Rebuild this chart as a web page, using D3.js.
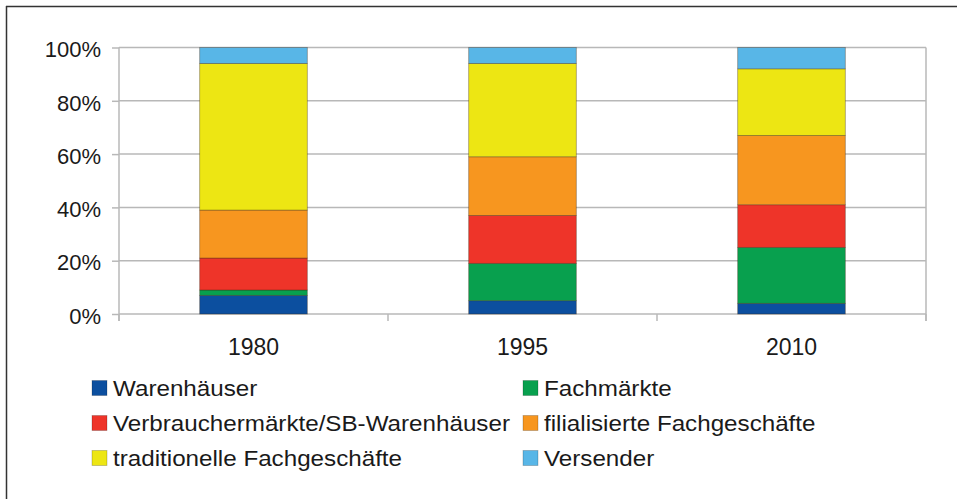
<!DOCTYPE html>
<html>
<head>
<meta charset="utf-8">
<script src="https://cdn.jsdelivr.net/npm/d3@7"></script>
<style>
  body { margin: 0; background: #fff; }
  text { font-family: "Liberation Sans", Arial, sans-serif; fill: #1a1a1a; }
</style>
</head>
<body>
<script>
// data (percent shares)
var years = ["1980", "1995", "2010"];
var series = ["Warenhäuser", "Fachmärkte", "Verbrauchermärkte/SB-Warenhäuser",
              "filialisierte Fachgeschäfte", "traditionelle Fachgeschäfte", "Versender"];
var warenhaeuser   = [7, 5, 4];
var fachmaerkte    = [2, 14, 21];
var verbraucher    = [12, 18, 16];
var filialisiert   = [18, 22, 26];
var traditionell   = [55, 35, 25];
var versender      = [6, 6, 8];
var yTicks = [0, 20, 40, 60, 80, 100];
var colors = ["#0c4f9f", "#08a04e", "#ee3429", "#f7961f", "#ede613", "#58b6e7"];

var width = 957, height = 499;
var plot = {left: 119, right: 926, top: 47.5, bottom: 314};

// one row per year for d3.stack
var rows = years.map(function(y, i) {
  return {
    year: y,
    "Warenhäuser": warenhaeuser[i],
    "Fachmärkte": fachmaerkte[i],
    "Verbrauchermärkte/SB-Warenhäuser": verbraucher[i],
    "filialisierte Fachgeschäfte": filialisiert[i],
    "traditionelle Fachgeschäfte": traditionell[i],
    "Versender": versender[i]
  };
});
var stacked = d3.stack().keys(series)(rows);

var svg = d3.select("body").append("svg")
    .attr("width", width)
    .attr("height", height);

// frame (only top and left edges visible)
svg.append("line").attr("x1", 6).attr("x2", width).attr("y1", 6.5).attr("y2", 6.5)
    .attr("stroke", "#333").attr("stroke-width", 1.5);
svg.append("line").attr("x1", 6.5).attr("x2", 6.5).attr("y1", 6).attr("y2", height)
    .attr("stroke", "#333").attr("stroke-width", 1.5);

var x = d3.scaleBand().domain(years)
    .range([plot.left, plot.right])
    .paddingInner(0.6).paddingOuter(0.3);
var y = d3.scaleLinear().domain([0, 100]).range([plot.bottom, plot.top]);

// gridlines
svg.append("g").selectAll("line")
  .data(yTicks)
  .enter().append("line")
    .attr("x1", plot.left).attr("x2", plot.right)
    .attr("y1", function(d) { return y(d); })
    .attr("y2", function(d) { return y(d); })
    .attr("stroke", "#b8b8b8").attr("stroke-width", 1.5);

// right border of plot
svg.append("line").attr("x1", plot.right).attr("x2", plot.right)
    .attr("y1", plot.top).attr("y2", plot.bottom + 7)
    .attr("stroke", "#b8b8b8").attr("stroke-width", 1.5);

// y axis
var yAxis = svg.append("g")
    .attr("transform", "translate(" + plot.left + ",0)")
    .call(d3.axisLeft(y).tickValues(yTicks).tickSize(7).tickPadding(11)
      .tickFormat(function(d) { return d + "%"; }));
yAxis.select(".domain").remove();
yAxis.append("line").attr("x1", 0).attr("x2", 0)
    .attr("y1", plot.top).attr("y2", plot.bottom + 7)
    .attr("stroke", "#b8b8b8").attr("stroke-width", 1.5);
yAxis.selectAll(".tick line").attr("stroke", "#b8b8b8").attr("stroke-width", 1.5);
yAxis.selectAll(".tick text")
    .style("font-size", "22px")
    .attr("dy", "0.42em")
    .attr("fill", "#1a1a1a");

// x axis: tick marks at category boundaries, labels centred
var bounds = [plot.left].concat(years.map(function(d) { return x(d) + x.bandwidth() / 2 + x.step() / 2; }));
svg.append("g").selectAll("line")
  .data(bounds)
  .enter().append("line")
    .attr("x1", function(d) { return d; }).attr("x2", function(d) { return d; })
    .attr("y1", plot.bottom).attr("y2", plot.bottom + 7)
    .attr("stroke", "#b8b8b8").attr("stroke-width", 1.5);
svg.append("g").selectAll("text")
  .data(years)
  .enter().append("text")
    .attr("x", function(d) { return x(d) + x.bandwidth() / 2; })
    .attr("y", 355)
    .attr("text-anchor", "middle")
    .style("font-size", "23px")
    .text(function(d) { return d; });

// bars
svg.append("g").selectAll("g")
  .data(stacked)
  .enter().append("g")
    .attr("fill", function(d, i) { return colors[i]; })
  .selectAll("rect")
  .data(function(d) { return d; })
  .enter().append("rect")
    .attr("x", function(d) { return x(d.data.year); })
    .attr("width", x.bandwidth())
    .attr("y", function(d) { return y(d[1]); })
    .attr("height", function(d) { return y(d[0]) - y(d[1]); })
    .attr("stroke", "rgba(60,40,20,0.45)")
    .attr("stroke-width", 0.8);

// legend
var legendCols = [92, 523];
var legendRows = [388, 423, 458];
var legend = svg.append("g").selectAll("g")
  .data(series)
  .enter().append("g")
    .attr("transform", function(d, i) {
      return "translate(" + legendCols[i % 2] + "," + legendRows[Math.floor(i / 2)] + ")";
    });
legend.append("rect")
    .attr("x", 0).attr("y", -7.5)
    .attr("width", 15).attr("height", 15)
    .attr("fill", function(d, i) { return colors[i]; })
    .attr("stroke", "rgba(0,0,0,0.25)").attr("stroke-width", 0.8);
legend.append("text")
    .attr("transform", "translate(21,7.5) scale(1.1,1)")
    .style("font-size", "22px")
    .text(function(d) { return d; });
</script>
</body>
</html>
